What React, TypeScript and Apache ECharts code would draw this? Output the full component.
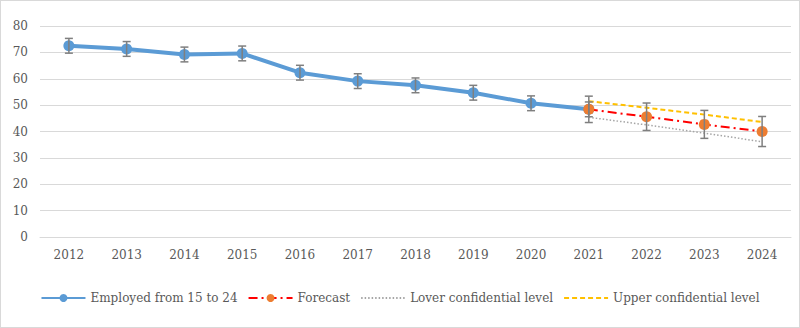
import React, { useEffect, useRef } from "react";
import * as echarts from "echarts";

const years = ["2012","2013","2014","2015","2016","2017","2018","2019","2020","2021","2022","2023","2024"];
const employed = [72.5, 71.3, 69.2, 69.6, 62.3, 59.1, 57.5, 54.7, 50.7, 48.4, null, null, null];
const employedErr = [2.8, 2.8, 2.8, 2.8, 2.8, 2.8, 2.8, 2.8, 2.8, 2.8, null, null, null];
const forecast = [null, null, null, null, null, null, null, null, null, 48.4, 45.6, 42.7, 40.0];
const forecastErr = [null, null, null, null, null, null, null, null, null, 5.0, 5.2, 5.3, 5.7];
const lower = [null, null, null, null, null, null, null, null, null, 45.4, 42.5, 39.4, 36.1];
const upper = [null, null, null, null, null, null, null, null, null, 51.5, 49.0, 46.4, 43.6];

const FONT = "DejaVu Serif";

function errData(vals: (number | null)[], errs: (number | null)[]) {
  const out: any[] = [];
  vals.forEach((v, i) => {
    if (v != null && errs[i] != null) out.push([i, v - (errs[i] as number), v + (errs[i] as number)]);
  });
  return out;
}

function renderErr(params: any, api: any) {
  const x = api.value(0);
  const lo = api.coord([x, api.value(1)]);
  const hi = api.coord([x, api.value(2)]);
  const w = 4;
  const style = { stroke: "#7f7f7f", lineWidth: 1.5 };
  return {
    type: "group",
    children: [
      { type: "line", shape: { x1: lo[0], y1: lo[1], x2: hi[0], y2: hi[1] }, style },
      { type: "line", shape: { x1: lo[0] - w, y1: lo[1], x2: lo[0] + w, y2: lo[1] }, style },
      { type: "line", shape: { x1: hi[0] - w, y1: hi[1], x2: hi[0] + w, y2: hi[1] }, style },
    ],
  };
}

export default function App() {
  const ref = useRef<HTMLDivElement>(null);
  useEffect(() => {
    if (!ref.current) return;
    const chart = echarts.init(ref.current, undefined, { renderer: "svg" });
    chart.setOption({
      animation: false,
      textStyle: { fontFamily: FONT },
      grid: { left: 39, right: 8, top: 25, bottom: 90, containLabel: false },
      xAxis: {
        type: "category",
        data: years,
        boundaryGap: true,
        axisLine: { lineStyle: { color: "#d9d9d9", width: 1 } },
        axisTick: { show: false },
        axisLabel: { color: "#595959", fontSize: 12, fontFamily: FONT, margin: 12 },
      },
      yAxis: {
        type: "value",
        min: 0,
        max: 80,
        interval: 10,
        axisLine: { show: false },
        axisTick: { show: false },
        splitLine: { lineStyle: { color: "#d9d9d9", width: 1 } },
        axisLabel: { color: "#595959", fontSize: 12, fontFamily: FONT, margin: 12 },
      },
      legend: {
        top: 286,
        left: "center",
        itemWidth: 44,
        itemHeight: 10,
        itemGap: 10,
        textStyle: { color: "#595959", fontSize: 12, fontFamily: FONT },
        data: [
          "Employed from 15 to 24",
          "Forecast",
          { name: "Lover confidential level", itemStyle: { opacity: 0 } },
          { name: "Upper confidential level", itemStyle: { opacity: 0 } },
        ],
      },
      series: [
        {
          name: "Lover confidential level",
          type: "line",
          data: lower,
          symbol: "none",
          lineStyle: { color: "#a5a5a5", width: 1.5, type: [1.5, 2] },
          itemStyle: { color: "#a5a5a5" },
          z: 2,
        },
        {
          name: "Upper confidential level",
          type: "line",
          data: upper,
          symbol: "none",
          lineStyle: { color: "#ffc000", width: 2, type: [5, 3] },
          itemStyle: { color: "#ffc000" },
          z: 2,
        },
        {
          name: "Employed from 15 to 24",
          type: "line",
          data: employed,
          symbol: "circle",
          symbolSize: 11,
          lineStyle: { color: "#5b9bd5", width: 4 },
          itemStyle: { color: "#5b9bd5" },
          z: 3,
        },
        {
          name: "Forecast",
          type: "line",
          data: forecast,
          symbol: "circle",
          symbolSize: 11,
          lineStyle: { color: "#ff0000", width: 2, type: [9, 4, 2, 4] },
          itemStyle: { color: "#ed7d31" },
          z: 4,
        },
        {
          name: "errEmployed",
          type: "custom",
          data: errData(employed, employedErr),
          renderItem: renderErr,
          encode: { x: 0, y: [1, 2] },
          z: 5,
        },
        {
          name: "errForecast",
          type: "custom",
          data: errData(forecast, forecastErr),
          renderItem: renderErr,
          encode: { x: 0, y: [1, 2] },
          z: 5,
        },
      ],
    });
    return () => chart.dispose();
  }, []);
  return (
    <div
      style={{
        position: "absolute",
        left: 0,
        top: 0,
        width: 800,
        height: 328,
        border: "1px solid #d9d9d9",
        boxSizing: "border-box",
        background: "#fff",
      }}
    >
      <div ref={ref} style={{ width: 798, height: 326 }} />
    </div>
  );
}
